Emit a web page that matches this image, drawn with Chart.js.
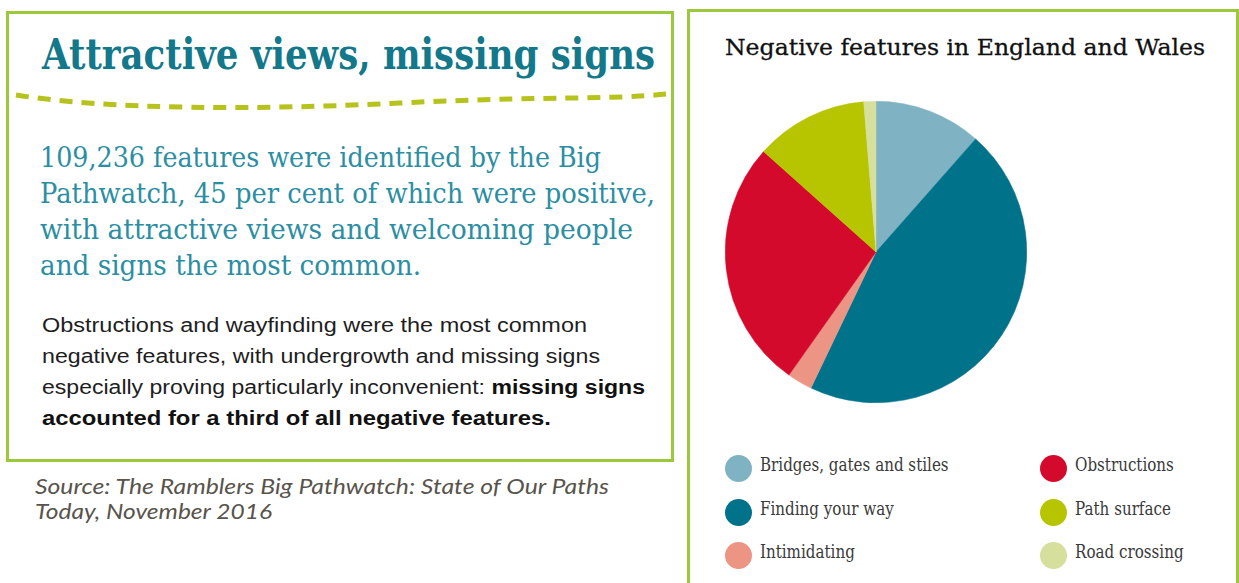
<!DOCTYPE html>
<html>
<head>
<meta charset="utf-8">
<script src="https://cdn.jsdelivr.net/npm/chart.js@4.4.1/dist/chart.umd.min.js"></script>
<style>
  html, body { margin: 0; padding: 0; background: #fff; }
  body { width: 1239px; height: 583px; position: relative; overflow: hidden; }
  .box { position: absolute; border: 3px solid #9cc83c; box-sizing: border-box; }
  .line { position: absolute; white-space: nowrap; transform-origin: 0 0; }
  .heading { font-family: "DejaVu Serif"; font-weight: bold; font-size: 43px; color: #12788a; }
  .intro { font-family: "DejaVu Serif"; font-size: 28px; color: #2b8ea2; font-weight: 300; }
  .body { font-family: "Liberation Sans"; font-size: 20px; color: #1e1e1e; }
  .body b { font-weight: bold; color: #111; }
  .source { font-family: "Lato"; font-style: italic; font-size: 22px; color: #58544c; }
  .title { font-family: "DejaVu Serif"; font-size: 23px; color: #111; -webkit-text-stroke: 0.3px #111; }
  #legend .item { position: absolute; }
  #legend .dot { position: absolute; width: 27px; height: 27px; border-radius: 50%; }
  #legend .lbl { position: absolute; top: -1px; font-family: "DejaVu Serif"; font-size: 18px; color: #3a3a3a; white-space: nowrap; transform-origin: 0 0; }
  #pieWrap { position: absolute; left: 725px; top: 101px; width: 302px; height: 302px; }
</style>
</head>
<body>

<!-- left panel: headline and summary text -->
<div class="box" style="left:6px; top:11px; width:668px; height:451px;"></div>
<div class="line heading" data-w="613" style="left:42px; top:29px;">Attractive views, missing signs</div>
<svg style="position:absolute; left:0; top:0;" width="680" height="130">
  <path d="M16,95 C110,110 260,110 400,103 S610,100 666,94" fill="none" stroke="#b6c31c" stroke-width="5" stroke-dasharray="13 9"/>
</svg>

<div class="line intro" data-w="561" style="left:40px; top:141px;">109,236 features were identified by the Big</div>
<div class="line intro" data-w="615" style="left:40px; top:177px;">Pathwatch, 45 per cent of which were positive,</div>
<div class="line intro" data-w="593" style="left:40px; top:213px;">with attractive views and welcoming people</div>
<div class="line intro" data-w="381" style="left:40px; top:249px;">and signs the most common.</div>

<div class="line body" data-w="545" style="left:42px; top:314px;">Obstructions and wayfinding were the most common</div>
<div class="line body" data-w="558" style="left:42px; top:345px;">negative features, with undergrowth and missing signs</div>
<div class="line body" data-w="603" style="left:42px; top:376px;">especially proving particularly inconvenient: <b>missing signs</b></div>
<div class="line body" data-w="509" style="left:42px; top:407px;"><b>accounted for a third of all negative features.</b></div>

<div class="line source" data-w="574" style="left:35px; top:472px;">Source: The Ramblers Big Pathwatch: State of Our Paths</div>
<div class="line source" data-w="237" style="left:35px; top:497px;">Today, November 2016</div>

<!-- right panel: pie chart -->
<div class="box" style="left:687px; top:9px; width:552px; height:600px;"></div>
<div class="line title" data-w="480" style="left:725px; top:34px;">Negative features in England and Wales</div>
<div id="pieWrap"><canvas id="pie" width="302" height="302"></canvas></div>
<div id="legend"></div>

<script>
"use strict"

// negative feature shares, per cent, clockwise from 12 o'clock
const categories = [
    'Bridges, gates and stiles',
    'Finding your way',
    'Intimidating',
    'Obstructions',
    'Path surface',
    'Road crossing'
]
const shares = [11.5, 45.6, 2.7, 26.8, 12.1, 1.3]
const sliceColours = ['#7fb2c3', '#00728a', '#ec9584', '#d30a2b', '#b7c400', '#d6df9c']

// squeeze each text line to its set width
let fitLines = function() {
    document.querySelectorAll('[data-w]').forEach(el => {
        let natural = el.getBoundingClientRect().width
        let target = Number(el.dataset.w)
        if (natural > 0) el.style.transform = 'scaleX(' + (target / natural) + ')'
    })
}

let drawPie = function() {
    let ctx = document.getElementById('pie').getContext('2d')
    return new Chart(ctx, {
        type: 'pie',
        data: {
            labels: categories,
            datasets: [{
                data: shares,
                backgroundColor: sliceColours,
                borderColor: sliceColours,
                borderWidth: 0.5
            }]
        },
        options: {
            responsive: false,
            animation: false,
            devicePixelRatio: 1,
            layout: { padding: 0 },
            plugins: {
                legend: { display: false },
                tooltip: { enabled: false }
            }
        }
    })
}

// legend laid out in two columns, filled top to bottom
let drawLegend = function(chart) {
    let items = Chart.overrides.pie.plugins.legend.labels.generateLabels(chart)
    let holder = document.getElementById('legend')
    items.forEach((it, i) => {
        let col = Math.floor(i / 3)
        let row = i % 3
        let item = document.createElement('div')
        item.className = 'item'
        item.style.left = (725 + col * 315) + 'px'
        item.style.top = (455 + row * 43.5) + 'px'
        let dot = document.createElement('div')
        dot.className = 'dot'
        dot.style.background = it.fillStyle
        let lbl = document.createElement('div')
        lbl.className = 'lbl'
        lbl.textContent = it.text
        item.appendChild(dot)
        item.appendChild(lbl)
        holder.appendChild(item)
        lbl.style.left = '35px'
        lbl.style.transform = 'scaleX(0.84)'
    })
}

let pieChart = drawPie()
drawLegend(pieChart)
fitLines()
</script>
</body>
</html>
